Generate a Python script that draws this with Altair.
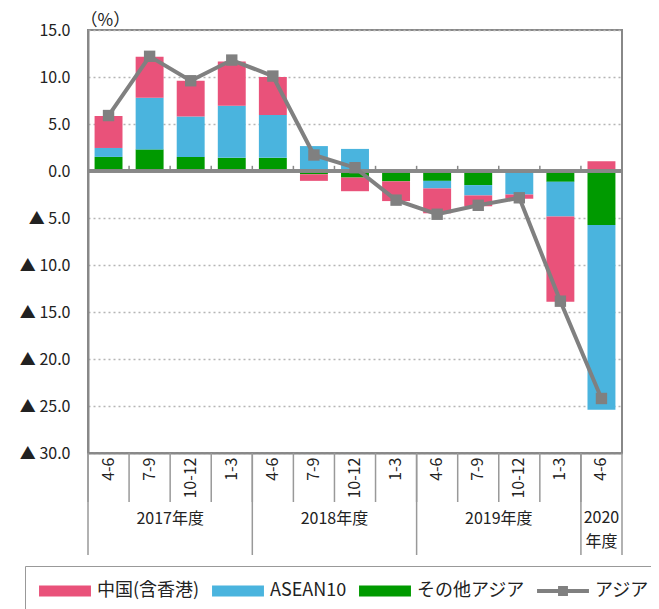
import altair as alt
import pandas as pd

years = ["2017"] * 4 + ["2018"] * 4 + ["2019"] * 4 + ["2020"]
quarters = ["4-6", "7-9", "10-12", "1-3"] * 3 + ["4-6"]

china = [3.4, 4.35, 3.8, 4.7, 4.05, -0.7, -1.45, -2.1, -2.65, -1.15, -0.45, -9.05, 1.05]
asean = [0.95, 5.5, 4.3, 5.55, 4.55, 2.65, 2.35, 0.0, -0.8, -1.1, -2.4, -3.7, -19.65]
other = [1.5, 2.3, 1.5, 1.4, 1.4, -0.35, -0.7, -1.1, -1.05, -1.5, -0.1, -1.15, -5.75]
asia = [5.9, 12.2, 9.6, 11.8, 10.1, 1.7, 0.35, -3.1, -4.6, -3.65, -2.85, -13.85, -24.2]

series_names = ["中国(含香港)", "ASEAN10", "その他アジア", "アジア"]
series_colors = ["#E9527A", "#4AB4DE", "#009A00", "#808080"]

year_labels = ["2017年度", "2018年度", "2019年度"]
last_year_label = "2020\n年度"

keys = [f"{y}|{q}" for y, q in zip(years, quarters)]

rows = []
for i, k in enumerate(keys):
    rows.append({"key": k, "series": series_names[2], "value": other[i], "ord": 0})
    rows.append({"key": k, "series": series_names[1], "value": asean[i], "ord": 1})
    rows.append({"key": k, "series": series_names[0], "value": china[i], "ord": 2})
bars_df = pd.DataFrame(rows)
line_df = pd.DataFrame({"key": keys, "value": asia})
cat_df = pd.DataFrame({"key": keys})
year_start_df = pd.DataFrame({"key": [keys[0], keys[4], keys[8], keys[12]]})
year_end_df = pd.DataFrame({"key": [keys[12]]})
year_lab_df = pd.DataFrame({"key": [keys[2], keys[6], keys[10]], "label": year_labels})
last_lab_df = pd.DataFrame({"key": [keys[12]], "label": [last_year_label]})
legend_df = pd.DataFrame({"key": [keys[0]] * 4, "series": series_names, "value": [0] * 4})

FONT = "Noto Sans CJK JP"
GRAY = "#888888"

BAR_SYM = "M-2.36,-0.5H2.36V0.5H-2.36Z"
LINE_SYM = "M-2.36,-0.18H2.36V0.18H-2.36Z M-0.45,-0.45H0.45V0.45H-0.45Z"

xscale = alt.Scale(domain=keys, paddingInner=0, paddingOuter=0)
yscale = alt.Scale(domain=[-30, 15], nice=False, zero=False)
cscale = alt.Scale(domain=series_names, range=series_colors)
sscale = alt.Scale(domain=series_names, range=[BAR_SYM, BAR_SYM, BAR_SYM, LINE_SYM])

legend_cfg = alt.Legend(title=None, orient="none", legendX=-63, legendY=536,
                        direction="horizontal", columns=4,
                        labelFontSize=18, labelColor="#222", labelFont=FONT,
                        labelOffset=21, symbolOffset=15, columnPadding=12,
                        symbolSize=484, symbolStrokeWidth=0, symbolOpacity=1,
                        padding=14, strokeColor="#999999", fillColor="white")

x_axis = alt.Axis(title=None, labelAngle=-90, labelPadding=4, ticks=False,
                  labelExpr="split(datum.label, '|')[1]",
                  labelFontSize=16, labelColor="#222", domainColor=GRAY,
                  domainWidth=2, grid=False)
y_axis = alt.Axis(title="（%）", titleAngle=0, titleAlign="left",
                  titleBaseline="middle", titleX=-8, titleY=-10,
                  titleFontSize=17, titleFontWeight="normal", titleColor="#222",
                  values=[-30, -25, -20, -15, -10, -5, 0, 5, 10, 15],
                  labelExpr="datum.value < 0 ? '▲ ' + format(-datum.value, '.1f') : format(datum.value, '.1f')",
                  labelFontSize=16, labelColor="#222", labelPadding=18,
                  ticks=False, domainColor=GRAY, domainWidth=2,
                  grid=True, gridDash=[2, 3], gridColor="#b5b5b5", gridWidth=1.5)


def X(bp=None):
    if bp is None:
        return alt.X("key:N", scale=xscale, sort=keys, title=None, axis=x_axis)
    return alt.X("key:N", scale=xscale, sort=keys, title=None, axis=x_axis, bandPosition=bp)


def Y():
    return alt.Y("value:Q", scale=yscale, title="（%）", axis=y_axis)


bars = alt.Chart(bars_df).mark_bar(width=alt.RelativeBandSize(0.68)).encode(
    x=X(),
    y=alt.Y("value:Q", scale=yscale, stack="zero", title="（%）", axis=y_axis),
    color=alt.Color("series:N", scale=cscale, legend=legend_cfg),
    order=alt.Order("ord:Q", sort="ascending"),
)

legend_layer = alt.Chart(legend_df).mark_point(filled=True, opacity=0).encode(
    x=X(),
    y=Y(),
    color=alt.Color("series:N", scale=cscale, legend=legend_cfg),
    shape=alt.Shape("series:N", scale=sscale, legend=legend_cfg),
)

zero_line = alt.Chart(cat_df).mark_rule(color=GRAY, strokeWidth=2.5).encode(
    y=alt.datum(0)
)

zero_ticks = alt.Chart(cat_df).mark_rule(color=GRAY, strokeWidth=1.5).encode(
    x=X(0),
    y=alt.datum(0),
    y2=alt.datum(0.55),
)
zero_tick_end = alt.Chart(year_end_df).mark_rule(color=GRAY, strokeWidth=1.5).encode(
    x=X(1),
    y=alt.datum(0),
    y2=alt.datum(0.55),
)

sep = alt.Chart(cat_df).mark_rule(color="#999999", strokeWidth=1.5).encode(
    x=X(0),
    y=alt.value(423),
    y2=alt.value(472),
)
year_sep = alt.Chart(year_start_df).mark_rule(color="#999999", strokeWidth=1.5).encode(
    x=X(0),
    y=alt.value(423),
    y2=alt.value(525),
)
year_sep_end = alt.Chart(year_end_df).mark_rule(color="#999999", strokeWidth=1.5).encode(
    x=X(1),
    y=alt.value(423),
    y2=alt.value(525),
)

year_text = alt.Chart(year_lab_df).mark_text(fontSize=16, font=FONT, color="#222",
                                             baseline="middle", align="center").encode(
    x=X(0),
    y=alt.value(489),
    text="label:N",
)
last_text = alt.Chart(last_lab_df).mark_text(fontSize=16, font=FONT, color="#222",
                                             baseline="top", align="center",
                                             lineBreak="\n", lineHeight=24).encode(
    x=X(0.5),
    y=alt.value(480),
    text="label:N",
)

line = alt.Chart(line_df).mark_line(color="#808080", strokeWidth=4).encode(
    x=X(),
    y=Y(),
)
points = alt.Chart(line_df).mark_point(shape="square", size=130, filled=True,
                                       color="#808080", opacity=1).encode(
    x=X(),
    y=Y(),
)

chart = alt.layer(
    bars, zero_line, zero_ticks, zero_tick_end, sep, year_sep, year_sep_end,
    year_text, last_text, line, points, legend_layer,
).properties(
    width=534, height=423,
    autosize=alt.AutoSizeParams(type="none"),
    padding={"left": 80, "top": 22, "right": 29, "bottom": 156},
).configure(
    font=FONT,
).configure_view(
    stroke=GRAY, strokeWidth=2,
)

chart.save("out.html", embed_options={"renderer": "svg", "actions": False})
